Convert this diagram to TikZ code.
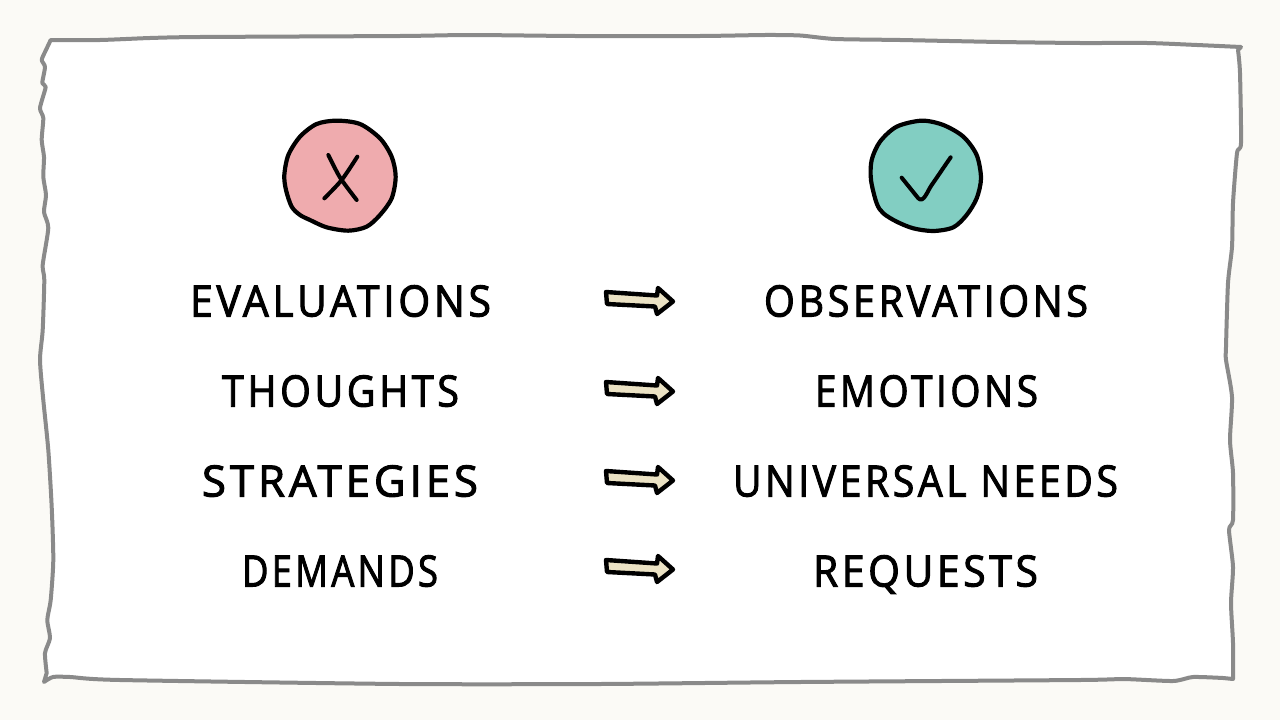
\documentclass[tikz,border=0pt]{standalone}
\usepackage{fontspec}
\usepackage{graphicx}
\setmainfont{Open Sans}
\newfontfamily\lab[LetterSpace=9,FakeBold=2.3]{Open Sans}
\definecolor{paper}{HTML}{FBFAF6}
\definecolor{frameg}{HTML}{8A8A8A}
\definecolor{redf}{HTML}{EFABAE}
\definecolor{teal}{HTML}{82CEC2}
\definecolor{tan}{HTML}{EBE2C4}
\newcommand{\hand}[2]{\resizebox{#1pt}{31pt}{\lab\fontsize{39}{39}\selectfont\raisebox{0pt}[28pt][0pt]{#2}}}
\tikzset{
  lbl/.style={text=black, inner sep=0pt, anchor=center},
  ink/.style={draw=black, line width=4.2pt, line join=round, line cap=round},
  stroke/.style={draw=black, line width=4pt, line join=round, line cap=round},
  handarrow/.pic={\draw[draw=black, fill=tan, line width=4.4pt, line join=round]
    (606,-9) -- (657,-5.5) -- (658,-13) -- (673,0.5) -- (657,13) -- (655,5.5) -- (607,3) -- cycle;},
}
\begin{document}
\begin{tikzpicture}[x=1pt,y=-1pt]
\useasboundingbox (0,0) rectangle (1280,720);
\fill[paper] (0,0) rectangle (1280,720);
\draw[fill=white, draw=frameg, line width=4pt, line join=round]
 plot[smooth, tension=0.4] coordinates {(50.7,40) (100,40) (150,38) (200,37) (400,36) (470,35) (575,36) (700,36) (765,35) (800,35.5) (835,39) (900,40) (1000,42) (1080,43) (1147,43) (1197,45) (1241,47)}
 -- plot[smooth, tension=0.4] coordinates {(1238,50) (1240,73) (1241,143) (1237,153) (1233,203) (1232,247) (1228,283) (1226,347) (1226,360) (1232,397) (1230,440) (1233,473) (1233,520) (1229,530) (1233,567) (1231,603) (1233,643) (1233,679)}
 -- plot[smooth, tension=0.4] coordinates {(1223,678) (1193,677) (1173,681) (1123,679) (1080,680) (800,682) (600,684) (400,684) (120,680) (70,677) (53,677) (44,682)}
 -- plot[smooth, tension=0.4] coordinates {(46.7,673) (45,653) (50,638) (47.3,620) (50.7,600) (53.3,560) (51.7,507) (48.3,450) (43.3,400) (40,360) (42.7,330) (44.3,280) (42.7,265) (48.3,228) (44,212) (46,195) (43.3,177) (44,157) (41.7,140) (43.3,118) (40,108) (45.7,87) (42.3,83) (45,67) (41.7,60) (45,52)}
 -- cycle;
\begin{scope}[shift={(260,100)}, x=0.33333pt, y=-0.33333pt]
\draw[ink, fill=redf] plot[smooth cycle] coordinates {(230,62) (300,72) (360,115) (395,170) (407,230) (395,295) (360,345) (320,380) (265,392) (200,382) (150,360) (120,345) (95,320) (78,270) (73,225) (85,165) (120,110) (170,72)};
\draw[stroke] plot[smooth] coordinates {(205,165) (225,205) (245,240) (290,300)};
\draw[stroke] plot[smooth] coordinates {(292,170) (245,240) (193,295)};
\end{scope}
\begin{scope}[shift={(850,100)}, x=0.33333pt, y=-0.33333pt]
\draw[ink, fill=teal] plot[smooth cycle] coordinates {(215,62) (280,75) (340,110) (380,165) (393,235) (380,295) (350,345) (310,382) (250,393) (190,385) (140,365) (100,340) (80,310) (63,240) (65,180) (90,125) (140,80)};
\draw[stroke] (155,233) -- (205,295) to[out=-45,in=235] (245,255) to[out=55,in=235] (302,172);
\end{scope}
\node[lbl] (e) at (340.5,301) {\hand{301}{EVALUATIONS}};
\node[lbl] (t) at (340.5,391) {\hand{237}{THOUGHTS}};
\node[lbl] (s) at (340,481) {\hand{276}{STRATEGIES}};
\node[lbl] (d) at (340,571) {\hand{196}{DEMANDS}};
\node[lbl] (o) at (926,301) {\hand{324}{OBSERVATIONS}};
\node[lbl] (m) at (926.5,391) {\hand{223}{EMOTIONS}};
\node[lbl] (u) at (925.5,481) {\hand{385}{UNIVERSAL NEEDS}};
\node[lbl] (r) at (925.5,571) {\hand{225}{REQUESTS}};
\pic at (0,301) {handarrow};
\pic at (0,391) {handarrow};
\pic at (0,480) {handarrow};
\pic at (0,569) {handarrow};
\end{tikzpicture}
\end{document}
